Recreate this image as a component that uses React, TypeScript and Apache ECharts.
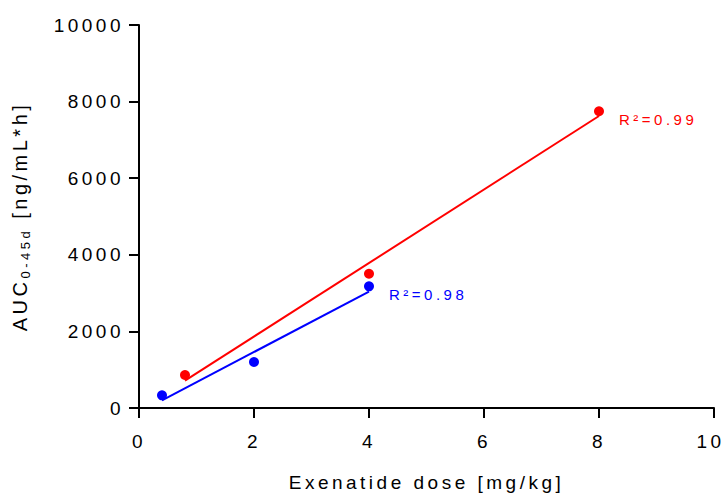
import React, { useEffect, useRef } from "react";
import * as echarts from "echarts";

// Axis ticks
const xTicks = [0, 2, 4, 6, 8, 10];
const yTicks = [0, 2000, 4000, 6000, 8000, 10000];

const redDose = [0.8, 4, 8];
const redAUC = [862, 3506, 7747];
const blueDose = [0.4, 2, 4];
const blueAUC = [331, 1201, 3177];

// Linear-fit end points
const redFitDose = [0.8, 8];
const redFitAUC = [715, 7624];
const blueFitDose = [0.4, 4];
const blueFitAUC = [200, 3040];

const redR2 = "R²=0.99";
const blueR2 = "R²=0.98";

const xTitle = "Exenatide dose [mg/kg]";
const yTitleMain = "AUC";
const yTitleSub = "0-45d";
const yTitleUnit = "\u00a0[ng/mL*h]";

const FONT = '"Liberation Sans", Arial, Helvetica, sans-serif';
const LS = 3.5; // letter spacing in px (applied by CSS)
const RED = "#ff0000";
const BLUE = "#0000ff";

const pairs = (xs: number[], ys: number[]) => xs.map((x, i) => [x, ys[i]]);

export default function App() {
  const ref = useRef<HTMLDivElement>(null);

  useEffect(() => {
    if (!ref.current) return;
    const chart = echarts.init(ref.current, undefined, { renderer: "svg" });
    const axisCommon = {
      type: "value" as const,
      axisLine: { show: true, onZero: false, lineStyle: { color: "#000", width: 2 } },
      axisTick: { show: true, inside: false, length: 10, lineStyle: { color: "#000", width: 2 } },
      splitLine: { show: false },
    };
    const xMax = xTicks[xTicks.length - 1];
    chart.setOption({
      animation: false,
      backgroundColor: "#ffffff",
      tooltip: { show: false },
      grid: {
        left: 139,
        right: 12,
        top: 25,
        bottom: 85,
        containLabel: false,
        outerBoundsMode: "none",
      },
      xAxis: {
        ...axisCommon,
        min: xTicks[0],
        max: xMax,
        interval: xTicks[1] - xTicks[0],
        axisLabel: {
          color: "#000",
          fontSize: 19,
          fontFamily: FONT,
          margin: 24,
          formatter: (v: number) => (v === xMax ? `{e|${v}}` : String(v)),
          rich: {
            e: {
              color: "#000",
              fontSize: 19,
              fontFamily: FONT,
              padding: [0, 7, 0, 0],
            },
          },
        },
        name: xTitle,
        nameLocation: "middle",
        nameGap: 65,
        nameTextStyle: { color: "#000", fontSize: 19, fontFamily: FONT },
      },
      yAxis: {
        ...axisCommon,
        min: yTicks[0],
        max: yTicks[yTicks.length - 1],
        interval: yTicks[1] - yTicks[0],
        axisLabel: {
          color: "#000",
          fontSize: 19,
          fontFamily: FONT,
          margin: 15,
          formatter: (v: number) => String(v),
        },
        name: `{a|${yTitleMain}}{b|${yTitleSub}}{c|${yTitleUnit}}`,
        nameLocation: "middle",
        nameGap: 107,
        nameTextStyle: {
          color: "#000",
          fontFamily: FONT,
          rich: {
            a: {
              align: "left",
              fontSize: 20,
              fontFamily: FONT,
              color: "#000",
              lineHeight: 24,
              verticalAlign: "middle",
              padding: [0, LS * yTitleMain.length, 0, 0],
            },
            b: {
              align: "left",
              fontSize: 13,
              fontFamily: FONT,
              color: "#000",
              lineHeight: 15,
              verticalAlign: "bottom",
              padding: [0, LS * yTitleSub.length, 0, 0],
            },
            c: {
              align: "left",
              fontSize: 20,
              fontFamily: FONT,
              color: "#000",
              lineHeight: 24,
              verticalAlign: "middle",
              padding: [0, LS * yTitleUnit.length, 0, 0],
            },
          },
        },
      },
      series: [
        {
          type: "line",
          data: pairs(redFitDose, redFitAUC),
          showSymbol: false,
          symbol: "none",
          silent: true,
          lineStyle: { color: RED, width: 2 },
          endLabel: {
            show: true,
            formatter: redR2,
            color: RED,
            fontSize: 15,
            fontFamily: FONT,
            distance: 20,
            offset: [0, 3],
          },
          z: 2,
        },
        {
          type: "line",
          data: pairs(blueFitDose, blueFitAUC),
          showSymbol: false,
          symbol: "none",
          silent: true,
          lineStyle: { color: BLUE, width: 2 },
          endLabel: {
            show: true,
            formatter: blueR2,
            color: BLUE,
            fontSize: 15,
            fontFamily: FONT,
            distance: 20,
            offset: [0, 3],
          },
          z: 2,
        },
        {
          type: "scatter",
          data: pairs(redDose, redAUC),
          symbol: "circle",
          symbolSize: 10,
          silent: true,
          itemStyle: { color: RED, opacity: 1 },
          z: 3,
        },
        {
          type: "scatter",
          data: pairs(blueDose, blueAUC),
          symbol: "circle",
          symbolSize: 10,
          silent: true,
          itemStyle: { color: BLUE, opacity: 1 },
          z: 3,
        },
      ],
    });
    return () => chart.dispose();
  }, []);

  return (
    <div
      ref={ref}
      style={{
        position: "absolute",
        left: 0,
        top: 0,
        width: 726,
        height: 493,
        letterSpacing: `${LS}px`,
        background: "#fff",
      }}
    />
  );
}
